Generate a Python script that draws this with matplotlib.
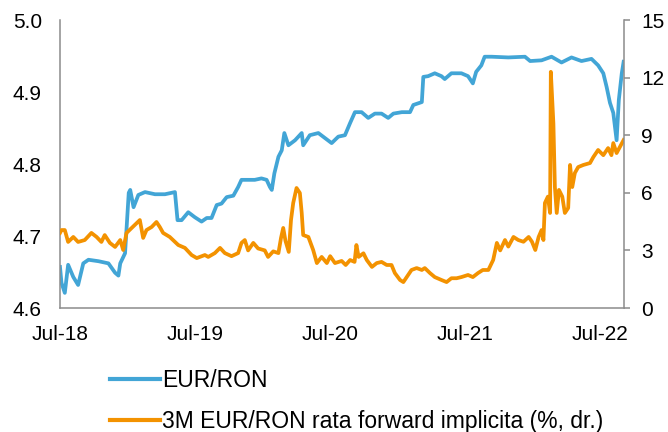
import pandas as pd
import matplotlib
matplotlib.use("Agg")
import matplotlib.pyplot as plt
import matplotlib.dates as mdates

plt.rcParams['font.family'] = ['Liberation Sans', 'DejaVu Sans']

# EUR/RON (left axis)
eur_dates = [
    "2018-07-01", "2018-07-05", "2018-07-14", "2018-07-23", "2018-08-06", "2018-08-19",
    "2018-09-02", "2018-09-16", "2018-10-13", "2018-11-09", "2018-11-27", "2018-12-06",
    "2018-12-11", "2018-12-24", "2019-01-03", "2019-01-07", "2019-01-16", "2019-01-29",
    "2019-02-16", "2019-03-15", "2019-04-11", "2019-05-08", "2019-05-15", "2019-05-26",
    "2019-06-13", "2019-07-01", "2019-07-19", "2019-08-02", "2019-08-15", "2019-08-29",
    "2019-09-11", "2019-09-25", "2019-10-13", "2019-10-26", "2019-11-04", "2019-12-10",
    "2019-12-28", "2020-01-11", "2020-01-20", "2020-01-25", "2020-02-01", "2020-02-12",
    "2020-02-21", "2020-02-28", "2020-03-10", "2020-03-28", "2020-04-15", "2020-04-19",
    "2020-05-07", "2020-05-30", "2020-06-17", "2020-07-05", "2020-07-23", "2020-08-10",
    "2020-08-24", "2020-09-06", "2020-09-24", "2020-10-12", "2020-10-30", "2020-11-17",
    "2020-12-05", "2020-12-19", "2021-01-11", "2021-02-02", "2021-02-11", "2021-03-06",
    "2021-03-10", "2021-03-23", "2021-04-10", "2021-04-28", "2021-05-07", "2021-05-25",
    "2021-06-21", "2021-07-09", "2021-07-22", "2021-07-31", "2021-08-14", "2021-08-23",
    "2021-09-11", "2021-10-26", "2021-12-10", "2021-12-24", "2022-01-24", "2022-02-20",
    "2022-03-19", "2022-04-15", "2022-05-12", "2022-06-08", "2022-06-26", "2022-07-10",
    "2022-07-19", "2022-07-28", "2022-08-06", "2022-08-15", "2022-08-21", "2022-08-29",
    "2022-09-03",
]
eur_ron = [
    4.657, 4.635, 4.621, 4.660, 4.643, 4.632,
    4.662, 4.667, 4.665, 4.662, 4.649, 4.645,
    4.662, 4.676, 4.760, 4.764, 4.740, 4.757,
    4.761, 4.758, 4.758, 4.761, 4.722, 4.722,
    4.733, 4.726, 4.720, 4.725, 4.725, 4.743,
    4.745, 4.754, 4.756, 4.768, 4.778, 4.778,
    4.780, 4.778, 4.768, 4.764, 4.787, 4.810,
    4.819, 4.843, 4.826, 4.833, 4.843, 4.826,
    4.840, 4.843, 4.836, 4.829, 4.838, 4.840,
    4.857, 4.872, 4.872, 4.864, 4.870, 4.870,
    4.864, 4.870, 4.872, 4.872, 4.882, 4.886,
    4.921, 4.922, 4.926, 4.922, 4.918, 4.926,
    4.926, 4.922, 4.912, 4.928, 4.937, 4.949,
    4.949, 4.948, 4.949, 4.943, 4.944, 4.949,
    4.941, 4.948, 4.943, 4.946, 4.937, 4.926,
    4.907, 4.885, 4.871, 4.833, 4.889, 4.926,
    4.942,
]

# 3M implied forward rate (right axis, %)
fwd_dates = [
    "2018-07-01", "2018-07-05", "2018-07-14", "2018-07-23", "2018-08-06", "2018-08-19",
    "2018-09-06", "2018-09-24", "2018-10-08", "2018-10-21", "2018-10-30", "2018-11-13",
    "2018-11-27", "2018-12-11", "2018-12-19", "2018-12-28", "2019-01-11", "2019-01-25",
    "2019-02-02", "2019-02-11", "2019-02-20", "2019-03-06", "2019-03-19", "2019-03-28",
    "2019-04-06", "2019-04-24", "2019-05-17", "2019-06-04", "2019-06-22", "2019-07-06",
    "2019-07-28", "2019-08-06", "2019-08-24", "2019-09-07", "2019-09-20", "2019-10-08",
    "2019-10-26", "2019-11-04", "2019-11-13", "2019-11-22", "2019-12-06", "2019-12-19",
    "2020-01-06", "2020-01-15", "2020-01-29", "2020-02-12", "2020-02-19", "2020-02-25",
    "2020-03-02", "2020-03-11", "2020-03-17", "2020-03-23", "2020-04-01", "2020-04-10",
    "2020-04-15", "2020-04-19", "2020-05-03", "2020-05-16", "2020-05-26", "2020-06-08",
    "2020-06-22", "2020-07-01", "2020-07-14", "2020-08-01", "2020-08-12", "2020-08-24",
    "2020-09-05", "2020-09-10", "2020-09-16", "2020-09-29", "2020-10-08", "2020-10-22",
    "2020-11-04", "2020-11-17", "2020-12-01", "2020-12-14", "2020-12-23", "2021-01-06",
    "2021-01-15", "2021-01-24", "2021-02-06", "2021-02-20", "2021-03-06", "2021-03-14",
    "2021-03-28", "2021-04-10", "2021-04-28", "2021-05-12", "2021-05-25", "2021-06-08",
    "2021-06-21", "2021-07-09", "2021-07-22", "2021-08-05", "2021-08-18", "2021-09-02",
    "2021-09-15", "2021-09-25", "2021-10-04", "2021-10-17", "2021-10-26", "2021-11-09",
    "2021-11-22", "2021-12-06", "2021-12-20", "2021-12-29", "2022-01-07", "2022-01-16",
    "2022-01-24", "2022-01-29", "2022-02-02", "2022-02-10", "2022-02-16", "2022-02-18",
    "2022-02-25", "2022-03-01", "2022-03-06", "2022-03-12", "2022-03-21", "2022-03-28",
    "2022-04-06", "2022-04-11", "2022-04-17", "2022-04-24", "2022-05-03", "2022-05-17",
    "2022-06-04", "2022-06-13", "2022-06-26", "2022-07-10", "2022-07-23", "2022-08-01",
    "2022-08-06", "2022-08-15", "2022-08-24", "2022-09-03",
]
fwd_rate = [
    3.91, 4.06, 4.06, 3.44, 3.70, 3.44,
    3.54, 3.91, 3.70, 3.44, 3.80, 3.39,
    3.18, 3.54, 3.02, 3.91, 4.17, 4.43,
    4.58, 3.65, 4.06, 4.22, 4.48, 4.22,
    3.91, 3.70, 3.28, 3.13, 2.76, 2.60,
    2.76, 2.66, 2.86, 3.13, 2.86, 2.70,
    2.86, 3.39, 3.54, 3.00, 3.39, 3.10,
    3.00, 2.66, 2.95, 2.86, 3.65, 4.17,
    3.50, 2.92, 4.58, 5.47, 6.25, 5.99,
    4.95, 3.80, 3.70, 3.02, 2.34, 2.66,
    2.34, 2.70, 2.34, 2.45, 2.24, 2.50,
    2.40, 3.28, 2.66, 2.85, 2.50, 2.14,
    2.34, 2.40, 2.24, 2.24, 1.82, 1.46,
    1.35, 1.61, 1.98, 2.08, 1.98, 2.08,
    1.82, 1.61, 1.46, 1.35, 1.55, 1.55,
    1.61, 1.72, 1.61, 1.82, 1.98, 1.98,
    2.50, 3.39, 3.00, 3.54, 3.20, 3.70,
    3.54, 3.45, 3.70, 3.45, 3.02, 3.70,
    4.06, 3.54, 5.47, 5.80, 4.95, 12.3,
    9.60, 6.30, 4.95, 6.15, 5.80, 4.95,
    5.21, 7.45, 6.30, 7.03, 7.34, 7.45,
    7.55, 7.86, 8.23, 7.96, 8.33, 7.96,
    8.59, 8.07, 8.39, 8.75,
]

left_ticks = [4.6, 4.7, 4.8, 4.9, 5.0]
right_ticks = [0, 3, 6, 9, 12, 15]
x_ticks = ["2018-07-01", "2019-07-01", "2020-07-01", "2021-07-01", "2022-07-01"]

blue = "#42A5D6"
orange = "#F39200"
grey = "#8C8C8C"

fig = plt.figure(figsize=(6.68, 4.32), dpi=100)
ax = fig.add_axes([60 / 668, 1 - 308 / 432, 564 / 668, 288 / 432])
ax2 = ax.twinx()

l1, = ax.plot(pd.to_datetime(eur_dates), eur_ron, color=blue, lw=2.7,
              solid_joinstyle="round", label="EUR/RON")
l2, = ax2.plot(pd.to_datetime(fwd_dates), fwd_rate, color=orange, lw=2.7,
               solid_joinstyle="round", label="3M EUR/RON rata forward implicita (%, dr.)")

ax.set_xlim(pd.Timestamp("2018-07-01"), pd.Timestamp("2022-09-04"))
ax.set_ylim(4.6, 5.0)
ax2.set_ylim(0, 15)

ax.set_yticks(left_ticks)
ax.set_yticklabels([f"{v:.1f}" for v in left_ticks])
ax2.set_yticks(right_ticks)
ax.set_xticks(pd.to_datetime(x_ticks))
ax.xaxis.set_major_formatter(mdates.DateFormatter("%b-%y"))

for a in (ax, ax2):
    a.spines["top"].set_visible(False)
    for s in ("left", "right", "bottom"):
        a.spines[s].set_color(grey)
        a.spines[s].set_linewidth(1.1)
ax.spines["right"].set_visible(False)
ax2.spines["left"].set_visible(False)
ax2.spines["bottom"].set_visible(False)

ax.tick_params(axis="y", length=0, pad=13, labelsize=15)
ax.tick_params(axis="x", length=0, pad=12, labelsize=15)
ax2.tick_params(axis="y", length=4.5, width=1.1, color=grey, pad=8, labelsize=15)

leg = fig.legend(handles=[l1, l2], loc="upper left", bbox_to_anchor=(110 / 668, 1 - 369 / 432),
                 frameon=False, fontsize=16.5, handlelength=2.2, handletextpad=0.08,
                 borderpad=0, borderaxespad=0, labelspacing=0.78)
for h in leg.legend_handles:
    h.set_linewidth(3)

fig.savefig("out.png", dpi=100)
